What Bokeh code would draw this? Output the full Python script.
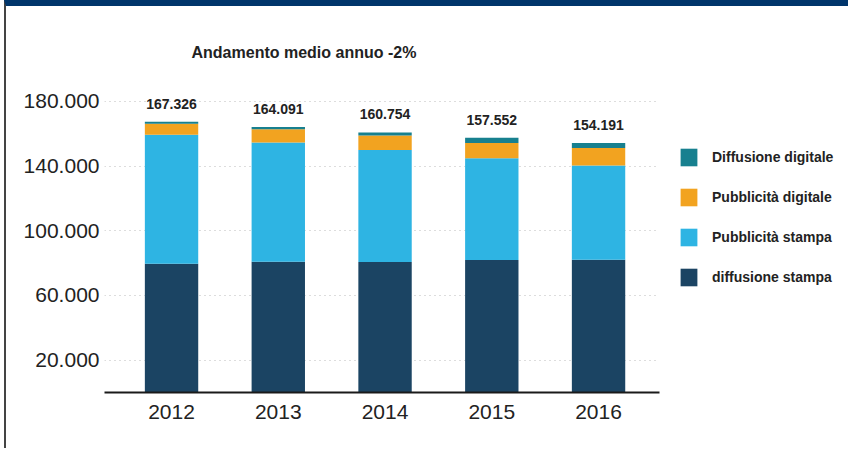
from bokeh.plotting import figure
from bokeh.models import (Range1d, FixedTicker, Legend, LegendItem, ColumnDataSource)
from bokeh.core.properties import value
from bokeh.embed import file_html
from bokeh.resources import INLINE

# ---- data ----
years = [2012, 2013, 2014, 2015, 2016]
diffusione_stampa = [79600, 80900, 80700, 81900, 82100]
pubblicita_stampa = [79800, 73700, 69200, 63000, 58300]
pubblicita_digitale = [6800, 8100, 9000, 9300, 10800]
diffusione_digitale = [1126, 1391, 1854, 3352, 2991]
totals = [167326, 164091, 160754, 157552, 154191]
total_labels = ["167.326", "164.091", "160.754", "157.552", "154.191"]
y_tick_values = [20000, 60000, 100000, 140000, 180000]
y_tick_labels = ["20.000", "60.000", "100.000", "140.000", "180.000"]
series_names = ["diffusione stampa", "Pubblicità stampa", "Pubblicità digitale", "Diffusione digitale"]
series_keys = ["ds", "ps", "pd", "dd"]
colors = ["#1b4463", "#2eb4e3", "#f2a320", "#17808f"]
title_text = "Andamento medio annuo -2%"

FONT = "Liberation Sans"
TXT = "#222222"

source = ColumnDataSource(dict(
    x=years, ds=diffusione_stampa, ps=pubblicita_stampa,
    pd=pubblicita_digitale, dd=diffusione_digitale,
    total=totals, label=total_labels,
))

p = figure(frame_width=555, frame_height=312, output_backend="svg", toolbar_location=None,
           x_range=Range1d(2011.372, 2016.571), y_range=Range1d(0, 192900),
           min_border_left=98, min_border_right=0, min_border_top=74,
           min_border_bottom=56, tools="")
p.outline_line_color = None
p.background_fill_color = "white"
p.border_fill_color = "white"
# slide frame: navy banner on top, thin dark rule on the left
p.styles = {"border-top": "6px solid #00356b", "border-left": "2px solid #444444",
            "margin-left": "4px"}

renderers = p.vbar_stack(series_keys, x="x", width=0.5, color=colors,
                         line_color=None, source=source)

p.text(x="x", y="total", text="label", source=source,
       text_align="center", text_baseline="alphabetic", y_offset=-18,
       text_font=value(FONT), text_font_style="bold", text_font_size="14px",
       text_color=TXT)

# title
p.title.text = title_text
p.title.align = "left"
p.title.offset = 87
p.title.text_font = FONT
p.title.text_font_size = "16px"
p.title.text_font_style = "bold"
p.title.text_color = TXT
p.title.standoff = 39

# axes
p.xaxis.ticker = FixedTicker(ticks=years)
p.xaxis.major_label_overrides = {y: str(y) for y in years}
p.xaxis.axis_line_width = 2
p.xaxis.axis_line_color = "#1a1a1a"
p.xaxis.major_tick_line_color = None
p.xaxis.minor_tick_line_color = None
p.xaxis.major_tick_out = 0
p.xaxis.major_label_standoff = 12
p.xaxis.major_label_text_font = FONT
p.xaxis.major_label_text_font_size = "21px"
p.xaxis.major_label_text_color = TXT

p.yaxis.ticker = FixedTicker(ticks=y_tick_values)
p.yaxis.major_label_overrides = dict(zip(y_tick_values, y_tick_labels))
p.yaxis.axis_line_color = None
p.yaxis.major_tick_line_color = None
p.yaxis.minor_tick_line_color = None
p.yaxis.major_tick_out = 0
p.yaxis.major_label_standoff = 5
p.yaxis.major_label_text_font = FONT
p.yaxis.major_label_text_font_size = "21px"
p.yaxis.major_label_text_color = TXT

p.xgrid.grid_line_color = None
p.ygrid.ticker = FixedTicker(ticks=y_tick_values)
p.ygrid.grid_line_color = "#bbbbbb"
p.ygrid.grid_line_dash = "1 4"
p.ygrid.grid_line_width = 1

# legend (top item = last stacked series)
items = [LegendItem(label=series_names[i], renderers=[renderers[i]]) for i in [3, 2, 1, 0]]
legend = Legend(items=items, location="top_left", orientation="vertical",
                glyph_width=21, glyph_height=22, label_height=22, spacing=18,
                label_standoff=13, padding=0, margin=19,
                title=" ", title_text_font_size="14px", title_standoff=31,
                border_line_color=None, background_fill_alpha=0,
                label_text_font=FONT, label_text_font_size="14px",
                label_text_font_style="bold", label_text_color=TXT)
p.add_layout(legend, "right")

open("out.html", "w").write(file_html(p, INLINE))
